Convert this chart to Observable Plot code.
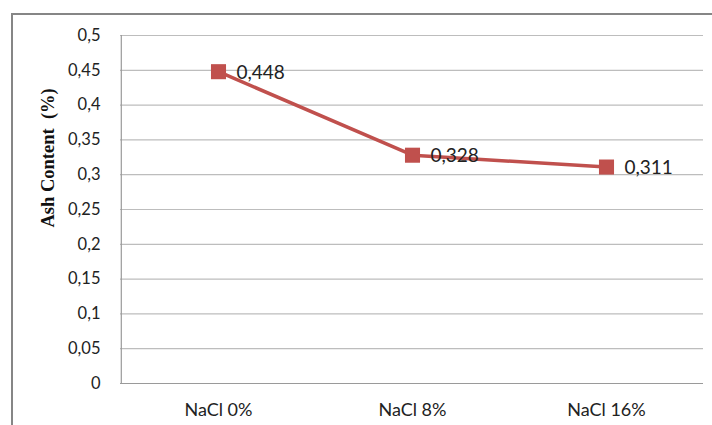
<!DOCTYPE html>
<html>
<head>
<meta charset="utf-8">
<script src="https://cdn.jsdelivr.net/npm/d3@7"></script>
<script src="https://cdn.jsdelivr.net/npm/@observablehq/plot@0.6"></script>
<style>
  html, body { margin: 0; padding: 0; background: #fff; overflow: hidden; }
  #wrap { position: relative; width: 712px; height: 425px; }
  #frame {
    position: absolute; left: 11px; top: 13px; width: 720px; height: 430px;
    border: 2px solid #868686; box-sizing: border-box;
  }
  #chart { position: absolute; left: 0; top: 0; }
</style>
</head>
<body>
<div id="wrap"><div id="frame"></div><div id="chart"></div></div>
<script>
// Ash content by salt concentration
const categories = ["NaCl 0%", "NaCl 8%", "NaCl 16%"];
const ashValues = [0.448, 0.328, 0.311];
const yTicks = [0, 0.05, 0.1, 0.15, 0.2, 0.25, 0.3, 0.35, 0.4, 0.45, 0.5];

const data = categories.map((c, i) => ({category: c, value: ashValues[i]}));
const comma = v => String(v).replace(".", ",");
const font = "Lato, 'Open Sans', sans-serif";
const red = "#c0504d";

const chart = Plot.plot({
  width: 712,
  height: 425,
  marginLeft: 120,
  marginRight: 9,
  marginTop: 35,
  marginBottom: 42,
  style: {fontFamily: font, fontSize: "15px", color: "#222", background: "transparent"},
  x: {type: "point", domain: categories, padding: 0.5, label: null, tickSize: 0, tickPadding: 16},
  y: {domain: [0, 0.5], label: null},
  marks: [
    Plot.gridY(yTicks, {stroke: "#bdbdbd", strokeOpacity: 1, strokeWidth: 1.2}),
    Plot.ruleX([categories[0]], {stroke: "#9a9a9a", strokeWidth: 1.2, dx: -97.2}),
    Plot.ruleY([0], {stroke: "#9a9a9a", strokeWidth: 1.2}),
    Plot.axisY(yTicks, {tickSize: 0, tickPadding: 20, tickFormat: comma, fontSize: 16.5, fill: "#222"}),
    Plot.axisX({tickSize: 0, tickPadding: 20, fontSize: 18, fill: "#222"}),
    Plot.lineY(data, {x: "category", y: "value", stroke: red, strokeWidth: 3.5}),
    Plot.dot(data, {x: "category", y: "value", symbol: "square", r: 8.5, fill: red, stroke: "none"}),
    Plot.text(data, {x: "category", y: "value", text: d => comma(d.value), textAnchor: "start", dx: 18, dy: 1, fontSize: 19, fill: "#222"}),
    Plot.text(["Ash Content  (%)"], {frameAnchor: "left", dx: -72, dy: 18, rotate: -90, fontFamily: "'Liberation Serif', 'Times New Roman', serif", fontWeight: "bold", fontSize: 18.5, fill: "#111"})
  ]
});
document.getElementById("chart").appendChild(chart);
</script>
</body>
</html>
